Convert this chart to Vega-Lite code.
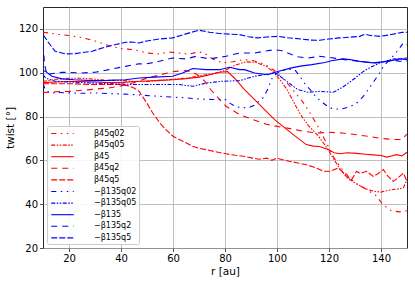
{
"$schema": "https://vega.github.io/schema/vega-lite/v6.json",
"width": 364, "height": 241,
"autosize": {"type": "none"},
"padding": {"left": 43, "top": 7, "right": 8, "bottom": 35},
"config": {
  "font": "DejaVu Sans",
  "view": {"stroke": "#262626", "strokeWidth": 1},
  "axis": {"domain": false, "grid": true, "gridColor": "#b0b0b0", "gridWidth": 0.8, "tickColor": "#262626", "tickSize": 3.5, "tickWidth": 0.8, "labelFontSize": 10, "labelColor": "#000", "labelPadding": 2, "titleFontSize": 10.5, "titleFontWeight": "normal", "titleColor": "#000"}
},
"data": {"values": [
{"s":"β45q02","x":10,"y":118.5},{"s":"β45q02","x":13,"y":118},{"s":"β45q02","x":16,"y":117.5},{"s":"β45q02","x":20,"y":117},{"s":"β45q02","x":25,"y":116},{"s":"β45q02","x":30,"y":114.5},{"s":"β45q02","x":35,"y":112.5},{"s":"β45q02","x":40,"y":111},{"s":"β45q02","x":45,"y":110.5},{"s":"β45q02","x":50,"y":109},{"s":"β45q02","x":55,"y":108.5},{"s":"β45q02","x":58,"y":109.5},{"s":"β45q02","x":62,"y":109},{"s":"β45q02","x":66,"y":108.5},{"s":"β45q02","x":70,"y":109.5},{"s":"β45q02","x":72,"y":109},{"s":"β45q02","x":75,"y":106.5},{"s":"β45q02","x":79,"y":104.5},{"s":"β45q02","x":83,"y":105},{"s":"β45q02","x":87,"y":106},{"s":"β45q02","x":91,"y":105.5},{"s":"β45q02","x":95,"y":104},{"s":"β45q02","x":99,"y":101},{"s":"β45q02","x":103,"y":96.5},{"s":"β45q02","x":107,"y":91},{"s":"β45q02","x":110,"y":86.5},{"s":"β45q02","x":113,"y":81},{"s":"β45q02","x":116,"y":75},{"s":"β45q02","x":119,"y":68},{"s":"β45q02","x":122,"y":61},{"s":"β45q02","x":125,"y":56},{"s":"β45q02","x":128,"y":52},{"s":"β45q02","x":131,"y":49},{"s":"β45q02","x":134,"y":47},{"s":"β45q02","x":138,"y":44},{"s":"β45q02","x":141,"y":39.5},{"s":"β45q02","x":144,"y":37},{"s":"β45q02","x":147,"y":36.5},{"s":"β45q02","x":150,"y":37},
{"s":"β45q05","x":10,"y":96},{"s":"β45q05","x":15,"y":97},{"s":"β45q05","x":20,"y":97.5},{"s":"β45q05","x":25,"y":97.5},{"s":"β45q05","x":30,"y":97},{"s":"β45q05","x":35,"y":96.5},{"s":"β45q05","x":40,"y":96.5},{"s":"β45q05","x":45,"y":96},{"s":"β45q05","x":50,"y":96},{"s":"β45q05","x":55,"y":96.5},{"s":"β45q05","x":60,"y":97},{"s":"β45q05","x":65,"y":97.5},{"s":"β45q05","x":70,"y":98.5},{"s":"β45q05","x":75,"y":99.5},{"s":"β45q05","x":80,"y":101},{"s":"β45q05","x":84,"y":103.5},{"s":"β45q05","x":88,"y":105},{"s":"β45q05","x":92,"y":104.7},{"s":"β45q05","x":96,"y":102.8},{"s":"β45q05","x":99,"y":100},{"s":"β45q05","x":102,"y":95.5},{"s":"β45q05","x":104,"y":92},{"s":"β45q05","x":106,"y":87.5},{"s":"β45q05","x":109,"y":81},{"s":"β45q05","x":112,"y":76},{"s":"β45q05","x":116,"y":71},{"s":"β45q05","x":119.6,"y":65},{"s":"β45q05","x":121.6,"y":61},{"s":"β45q05","x":124,"y":56.5},{"s":"β45q05","x":127,"y":52},{"s":"β45q05","x":131,"y":49},{"s":"β45q05","x":134,"y":47},{"s":"β45q05","x":137,"y":46},{"s":"β45q05","x":140,"y":45.5},{"s":"β45q05","x":143.4,"y":46.5},{"s":"β45q05","x":147,"y":47},{"s":"β45q05","x":148.6,"y":47.5},{"s":"β45q05","x":150,"y":51},
{"s":"β45","x":10,"y":95.5},{"s":"β45","x":15,"y":95.8},{"s":"β45","x":20,"y":96},{"s":"β45","x":25,"y":96},{"s":"β45","x":30,"y":95.8},{"s":"β45","x":35,"y":95.5},{"s":"β45","x":40,"y":95.5},{"s":"β45","x":45,"y":96},{"s":"β45","x":50,"y":96.2},{"s":"β45","x":55,"y":96.5},{"s":"β45","x":60,"y":96.8},{"s":"β45","x":65,"y":97.3},{"s":"β45","x":70,"y":98},{"s":"β45","x":75,"y":99.3},{"s":"β45","x":78,"y":100.2},{"s":"β45","x":81,"y":100.5},{"s":"β45","x":83.6,"y":97.6},{"s":"β45","x":87.5,"y":92.3},{"s":"β45","x":91.4,"y":87.7},{"s":"β45","x":95.2,"y":83.2},{"s":"β45","x":99.1,"y":78.6},{"s":"β45","x":103,"y":74.8},{"s":"β45","x":106,"y":72},{"s":"β45","x":111.3,"y":67.2},{"s":"β45","x":114,"y":66.5},{"s":"β45","x":116.4,"y":66.3},{"s":"β45","x":119.6,"y":65},{"s":"β45","x":122,"y":63.5},{"s":"β45","x":124.2,"y":63},{"s":"β45","x":127,"y":63.5},{"s":"β45","x":130.6,"y":63.2},{"s":"β45","x":134,"y":62.8},{"s":"β45","x":137,"y":62.5},{"s":"β45","x":140,"y":62.2},{"s":"β45","x":142.2,"y":61.5},{"s":"β45","x":144,"y":62},{"s":"β45","x":146,"y":62.6},{"s":"β45","x":148,"y":62},{"s":"β45","x":150,"y":63.7},
{"s":"β45q2","x":10,"y":91},{"s":"β45q2","x":15,"y":91.3},{"s":"β45q2","x":20,"y":91.5},{"s":"β45q2","x":25,"y":92},{"s":"β45q2","x":30,"y":92.5},{"s":"β45q2","x":35,"y":93},{"s":"β45q2","x":40,"y":94},{"s":"β45q2","x":45,"y":95.5},{"s":"β45q2","x":50,"y":97.5},{"s":"β45q2","x":55,"y":99},{"s":"β45q2","x":60,"y":100.5},{"s":"β45q2","x":65,"y":101},{"s":"β45q2","x":68,"y":100},{"s":"β45q2","x":70,"y":98.5},{"s":"β45q2","x":72.7,"y":95.5},{"s":"β45q2","x":74.7,"y":92},{"s":"β45q2","x":77,"y":89},{"s":"β45q2","x":80.4,"y":84.7},{"s":"β45q2","x":85.6,"y":80.9},{"s":"β45q2","x":90.7,"y":78.6},{"s":"β45q2","x":95.9,"y":76.5},{"s":"β45q2","x":100,"y":75.5},{"s":"β45q2","x":105,"y":74.5},{"s":"β45q2","x":110,"y":73.3},{"s":"β45q2","x":115,"y":72.5},{"s":"β45q2","x":120,"y":72.8},{"s":"β45q2","x":125,"y":72.5},{"s":"β45q2","x":130,"y":71.8},{"s":"β45q2","x":135,"y":71},{"s":"β45q2","x":140,"y":70},{"s":"β45q2","x":145,"y":69.5},{"s":"β45q2","x":148,"y":69.5},{"s":"β45q2","x":150,"y":72},
{"s":"β45q5","x":10,"y":95},{"s":"β45q5","x":15,"y":95},{"s":"β45q5","x":20,"y":95},{"s":"β45q5","x":25,"y":94.8},{"s":"β45q5","x":30,"y":94.6},{"s":"β45q5","x":35,"y":94.6},{"s":"β45q5","x":40,"y":94.6},{"s":"β45q5","x":43,"y":94},{"s":"β45q5","x":45,"y":93},{"s":"β45q5","x":47,"y":91.5},{"s":"β45q5","x":50,"y":86},{"s":"β45q5","x":52.2,"y":81.6},{"s":"β45q5","x":55,"y":77},{"s":"β45q5","x":57.3,"y":74},{"s":"β45q5","x":60,"y":71},{"s":"β45q5","x":62.4,"y":69.5},{"s":"β45q5","x":65,"y":68},{"s":"β45q5","x":67.6,"y":66.4},{"s":"β45q5","x":70,"y":65.5},{"s":"β45q5","x":72.7,"y":64.9},{"s":"β45q5","x":76,"y":64},{"s":"β45q5","x":80.4,"y":63},{"s":"β45q5","x":84,"y":62.3},{"s":"β45q5","x":88,"y":61.7},{"s":"β45q5","x":93,"y":60.5},{"s":"β45q5","x":96,"y":61},{"s":"β45q5","x":98,"y":60},{"s":"β45q5","x":100,"y":61},{"s":"β45q5","x":103,"y":60},{"s":"β45q5","x":105,"y":59.5},{"s":"β45q5","x":108,"y":58.8},{"s":"β45q5","x":111.3,"y":58},{"s":"β45q5","x":114,"y":57},{"s":"β45q5","x":116.4,"y":55.8},{"s":"β45q5","x":118,"y":55},{"s":"β45q5","x":120.3,"y":55},{"s":"β45q5","x":123.5,"y":56.5},{"s":"β45q5","x":125,"y":55},{"s":"β45q5","x":126.7,"y":52.7},{"s":"β45q5","x":128.7,"y":51.2},{"s":"β45q5","x":130.6,"y":55},{"s":"β45q5","x":132,"y":54},{"s":"β45q5","x":134.4,"y":55},{"s":"β45q5","x":137,"y":52.7},{"s":"β45q5","x":139,"y":54},{"s":"β45q5","x":140.9,"y":55.8},{"s":"β45q5","x":142.5,"y":53},{"s":"β45q5","x":144.7,"y":50.4},{"s":"β45q5","x":146.5,"y":52},{"s":"β45q5","x":148.6,"y":54.2},{"s":"β45q5","x":150,"y":50.4},
{"s":"−β135q02","x":10,"y":95},{"s":"−β135q02","x":11,"y":92},{"s":"−β135q02","x":13,"y":90.5},{"s":"−β135q02","x":15,"y":91},{"s":"−β135q02","x":20,"y":90.8},{"s":"−β135q02","x":25,"y":90.6},{"s":"−β135q02","x":30,"y":90.8},{"s":"−β135q02","x":35,"y":90.5},{"s":"−β135q02","x":40,"y":90.3},{"s":"−β135q02","x":45.6,"y":90},{"s":"−β135q02","x":50.9,"y":89.5},{"s":"−β135q02","x":55,"y":89.2},{"s":"−β135q02","x":59.8,"y":88.9},{"s":"−β135q02","x":65,"y":88.5},{"s":"−β135q02","x":70.1,"y":88},{"s":"−β135q02","x":75,"y":87.8},{"s":"−β135q02","x":80.4,"y":87.7},{"s":"−β135q02","x":82,"y":86},{"s":"−β135q02","x":84.3,"y":84.4},{"s":"−β135q02","x":88.8,"y":83.9},{"s":"−β135q02","x":91,"y":85},{"s":"−β135q02","x":94.6,"y":88.5},{"s":"−β135q02","x":96.4,"y":92.3},{"s":"−β135q02","x":98.4,"y":98.4},{"s":"−β135q02","x":101,"y":100.5},{"s":"−β135q02","x":104,"y":101.5},{"s":"−β135q02","x":106.8,"y":101.4},{"s":"−β135q02","x":109,"y":98},{"s":"−β135q02","x":111,"y":94.5},{"s":"−β135q02","x":113,"y":92},{"s":"−β135q02","x":115,"y":89},{"s":"−β135q02","x":117,"y":86.9},{"s":"−β135q02","x":120.3,"y":83.9},{"s":"−β135q02","x":124.1,"y":83.2},{"s":"−β135q02","x":128,"y":84.4},{"s":"−β135q02","x":131,"y":86.5},{"s":"−β135q02","x":133.2,"y":89.2},{"s":"−β135q02","x":135.5,"y":93},{"s":"−β135q02","x":137.7,"y":96.8},{"s":"−β135q02","x":139.5,"y":100},{"s":"−β135q02","x":141,"y":103},{"s":"−β135q02","x":143,"y":105.5},{"s":"−β135q02","x":145,"y":108},{"s":"−β135q02","x":146.7,"y":110.5},{"s":"−β135q02","x":148.6,"y":113.6},{"s":"−β135q02","x":150,"y":112.8},
{"s":"−β135q05","x":10,"y":99},{"s":"−β135q05","x":11,"y":97.6},{"s":"−β135q05","x":14.7,"y":96.1},{"s":"−β135q05","x":20,"y":95.8},{"s":"−β135q05","x":28.9,"y":95.3},{"s":"−β135q05","x":35,"y":95},{"s":"−β135q05","x":40,"y":94.8},{"s":"−β135q05","x":46.9,"y":94.6},{"s":"−β135q05","x":55,"y":94.6},{"s":"−β135q05","x":62.4,"y":94.6},{"s":"−β135q05","x":67.6,"y":93.8},{"s":"−β135q05","x":72.7,"y":95.3},{"s":"−β135q05","x":79.1,"y":96.1},{"s":"−β135q05","x":85.6,"y":96.4},{"s":"−β135q05","x":91.4,"y":98.4},{"s":"−β135q05","x":96,"y":99.3},{"s":"−β135q05","x":99.1,"y":99.9},{"s":"−β135q05","x":101,"y":98.5},{"s":"−β135q05","x":103,"y":96.8},{"s":"−β135q05","x":105.5,"y":94.5},{"s":"−β135q05","x":108,"y":92.3},{"s":"−β135q05","x":111.9,"y":91.1},{"s":"−β135q05","x":116.4,"y":91.5},{"s":"−β135q05","x":121.6,"y":91.1},{"s":"−β135q05","x":124,"y":92.5},{"s":"−β135q05","x":126.7,"y":94.6},{"s":"−β135q05","x":130,"y":97.5},{"s":"−β135q05","x":133.2,"y":100.6},{"s":"−β135q05","x":136,"y":102.5},{"s":"−β135q05","x":139.6,"y":104.5},{"s":"−β135q05","x":144.7,"y":106.3},{"s":"−β135q05","x":150,"y":106.7},
{"s":"−β135","x":10,"y":101},{"s":"−β135","x":11,"y":100.6},{"s":"−β135","x":13.4,"y":98.4},{"s":"−β135","x":17.3,"y":97.2},{"s":"−β135","x":22,"y":96.8},{"s":"−β135","x":28.9,"y":96.4},{"s":"−β135","x":35,"y":96.5},{"s":"−β135","x":41.7,"y":96.8},{"s":"−β135","x":47,"y":97.6},{"s":"−β135","x":53,"y":98},{"s":"−β135","x":59.8,"y":98.4},{"s":"−β135","x":63.7,"y":99.9},{"s":"−β135","x":67.6,"y":101.9},{"s":"−β135","x":72.7,"y":101.4},{"s":"−β135","x":77.9,"y":101.4},{"s":"−β135","x":81.7,"y":102.5},{"s":"−β135","x":85.6,"y":101.4},{"s":"−β135","x":87.5,"y":101.4},{"s":"−β135","x":91.4,"y":99.9},{"s":"−β135","x":96.4,"y":99.1},{"s":"−β135","x":100.3,"y":100.6},{"s":"−β135","x":105.6,"y":102.2},{"s":"−β135","x":109,"y":103},{"s":"−β135","x":113.4,"y":103.7},{"s":"−β135","x":118.4,"y":104.7},{"s":"−β135","x":121,"y":105.5},{"s":"−β135","x":125.4,"y":106.3},{"s":"−β135","x":128,"y":106},{"s":"−β135","x":131.8,"y":105.2},{"s":"−β135","x":137,"y":104.5},{"s":"−β135","x":142.2,"y":105.2},{"s":"−β135","x":147.4,"y":106.3},{"s":"−β135","x":150,"y":106},
{"s":"−β135q2","x":10,"y":113},{"s":"−β135q2","x":10.6,"y":104},{"s":"−β135q2","x":11.5,"y":99},{"s":"−β135q2","x":13,"y":99.5},{"s":"−β135q2","x":17.3,"y":100.2},{"s":"−β135q2","x":25,"y":99.9},{"s":"−β135q2","x":30.1,"y":100.2},{"s":"−β135q2","x":35.3,"y":101.4},{"s":"−β135q2","x":41.7,"y":102.9},{"s":"−β135q2","x":46.9,"y":104.1},{"s":"−β135q2","x":49.6,"y":104},{"s":"−β135q2","x":54.7,"y":105.2},{"s":"−β135q2","x":59.8,"y":106.7},{"s":"−β135q2","x":65,"y":106.3},{"s":"−β135q2","x":68.9,"y":107.5},{"s":"−β135q2","x":74,"y":106.3},{"s":"−β135q2","x":80.4,"y":107.5},{"s":"−β135q2","x":85.6,"y":109},{"s":"−β135q2","x":91.4,"y":109},{"s":"−β135q2","x":95,"y":109.8},{"s":"−β135q2","x":99.1,"y":110.5},{"s":"−β135q2","x":102,"y":110},{"s":"−β135q2","x":105.6,"y":108.3},{"s":"−β135q2","x":108,"y":107.3},{"s":"−β135q2","x":112,"y":106.7},{"s":"−β135q2","x":116.4,"y":107.5},{"s":"−β135q2","x":120,"y":107},{"s":"−β135q2","x":124.1,"y":106.3},{"s":"−β135q2","x":128,"y":105.7},{"s":"−β135q2","x":131.8,"y":105.2},{"s":"−β135q2","x":135,"y":104.8},{"s":"−β135q2","x":138.2,"y":104.5},{"s":"−β135q2","x":141,"y":105},{"s":"−β135q2","x":144.7,"y":105.7},{"s":"−β135q2","x":147,"y":105.3},{"s":"−β135q2","x":150,"y":105.2},
{"s":"−β135q5","x":10,"y":117},{"s":"−β135q5","x":10.5,"y":116.6},{"s":"−β135q5","x":12.2,"y":113.6},{"s":"−β135q5","x":14.7,"y":109.8},{"s":"−β135q5","x":18.6,"y":108.6},{"s":"−β135q5","x":22.4,"y":108.7},{"s":"−β135q5","x":25,"y":109.2},{"s":"−β135q5","x":28.9,"y":109.8},{"s":"−β135q5","x":32,"y":111},{"s":"−β135q5","x":35.3,"y":112.1},{"s":"−β135q5","x":38.5,"y":113},{"s":"−β135q5","x":41.7,"y":113.9},{"s":"−β135q5","x":44,"y":114},{"s":"−β135q5","x":46.9,"y":113.6},{"s":"−β135q5","x":50,"y":114.5},{"s":"−β135q5","x":54.7,"y":115.4},{"s":"−β135q5","x":59.8,"y":115.9},{"s":"−β135q5","x":63,"y":117},{"s":"−β135q5","x":66.3,"y":118.2},{"s":"−β135q5","x":70.1,"y":119.4},{"s":"−β135q5","x":74,"y":118.5},{"s":"−β135q5","x":77.9,"y":117.9},{"s":"−β135q5","x":81.7,"y":117.6},{"s":"−β135q5","x":85.6,"y":117.4},{"s":"−β135q5","x":89,"y":116.4},{"s":"−β135q5","x":92.6,"y":115.9},{"s":"−β135q5","x":96,"y":116.3},{"s":"−β135q5","x":100.3,"y":116.6},{"s":"−β135q5","x":104,"y":116},{"s":"−β135q5","x":109.3,"y":115.4},{"s":"−β135q5","x":113,"y":114.9},{"s":"−β135q5","x":116.4,"y":114.8},{"s":"−β135q5","x":120,"y":115.4},{"s":"−β135q5","x":124.1,"y":115.9},{"s":"−β135q5","x":128,"y":116.2},{"s":"−β135q5","x":131.8,"y":116.6},{"s":"−β135q5","x":133.8,"y":117.6},{"s":"−β135q5","x":136,"y":117},{"s":"−β135q5","x":139.6,"y":116.6},{"s":"−β135q5","x":143,"y":117.2},{"s":"−β135q5","x":146,"y":117.9},{"s":"−β135q5","x":148,"y":118.4},{"s":"−β135q5","x":150,"y":118.5}
]},
"mark": {"type": "line", "strokeWidth": 1.1, "clip": true},
"encoding": {
  "x": {"field": "x", "type": "quantitative", "scale": {"domain": [10, 150], "nice": false, "zero": false}, "axis": {"values": [20, 40, 60, 80, 100, 120, 140], "title": "r [au]", "titlePadding": 3}},
  "y": {"field": "y", "type": "quantitative", "scale": {"domain": [20, 130], "nice": false, "zero": false}, "axis": {"values": [20, 40, 60, 80, 100, 120], "title": "twist [°]", "titlePadding": 3}},
  "color": {"field": "s", "type": "nominal",
    "scale": {"domain": ["β45q02","β45q05","β45","β45q2","β45q5","−β135q02","−β135q05","−β135","−β135q2","−β135q5"], "range": ["#ff0000","#ff0000","#ff0000","#ff0000","#ff0000","#0000ff","#0000ff","#0000ff","#0000ff","#0000ff"]},
    "legend": {"title": null, "orient": "bottom-left", "offset": 4, "padding": 2, "fillColor": "rgba(255,255,255,0.85)", "strokeColor": "#cccccc", "cornerRadius": 2, "labelFontSize": 8, "labelColor": "#000", "rowPadding": 1.6, "symbolType": "M-2.5,0H2.5", "symbolSize": 81, "symbolOffset": 8, "labelOffset": 26, "symbolStrokeWidth": 1.1,
      "encode": {"symbols": {"update": {"stroke": {"scale": "color", "field": "value"}, "strokeDash": {"scale": "strokeDash", "field": "value"}, "fill": {"value": "transparent"}}}}}},
  "strokeDash": {"field": "s", "type": "nominal",
    "scale": {"domain": ["β45q02","β45q05","β45","β45q2","β45q5","−β135q02","−β135q05","−β135","−β135q2","−β135q5"], "range": [[5,4.5,1.5,4.5,1.5,4.5],[4,1.5,1.5,1.5,1.5,1.5],[1000,0],[6,5],[6,2],[5,4.5,1.5,4.5,1.5,4.5],[4,1.5,1.5,1.5,1.5,1.5],[1000,0],[6,5],[6,2]]},
    "legend": null}
}
}
